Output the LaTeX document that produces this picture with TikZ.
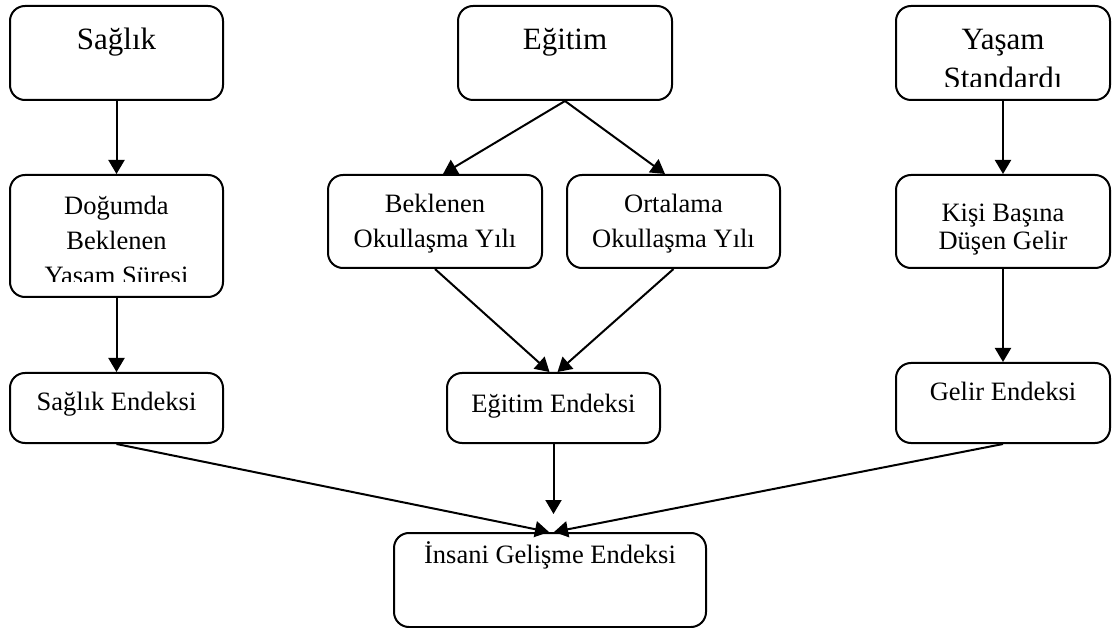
\documentclass[tikz,border=0pt]{standalone}
\usepackage{fontspec}
\setmainfont{Liberation Serif}
\usetikzlibrary{arrows.meta}
\begin{document}
\begin{tikzpicture}[x=1pt,y=-1pt,
  box/.style={draw, line width=2pt, rounded corners=15pt, inner sep=0pt},
  big/.style={font=\fontsize{31}{36}\selectfont, anchor=base, inner sep=0pt},
  txt/.style={font=\fontsize{26.5}{35}\selectfont, anchor=base, inner sep=0pt},
  conn/.style={line width=2pt, -{Triangle[length=14pt,width=16pt]}}
]
\useasboundingbox (0,0) rectangle (1117,628);

% boxes
\node[box, minimum width=213pt, minimum height=94pt]  (saglik) at (116.5,53)  {};
\node[box, minimum width=214pt, minimum height=94pt]  (egitim) at (565,53)    {};
\node[box, minimum width=214pt, minimum height=94pt]  (yasam)  at (1003,53)   {};
\node[box, minimum width=213pt, minimum height=122pt] (dogum)  at (116.5,236) {};
\node[box, minimum width=214pt, minimum height=93pt]  (bekl)   at (435,221.5) {};
\node[box, minimum width=213pt, minimum height=93pt]  (ortal)  at (673.5,221.5) {};
\node[box, minimum width=214pt, minimum height=93pt]  (kisi)   at (1003,221.5) {};
\node[box, minimum width=213pt, minimum height=70pt]  (sagend) at (116.5,408) {};
\node[box, minimum width=213pt, minimum height=70pt]  (egiend) at (553.5,408) {};
\node[box, minimum width=214pt, minimum height=80pt]  (gelend) at (1003,403)  {};
\node[box, minimum width=312pt, minimum height=94pt]  (hdi)    at (550,580)   {};

% labels
\node[big] (tSaglik) at (116.5,50) {Sağlık};
\node[big] (tEgitim) at (565,50) {Eğitim};
\node[big] (tYasam)  at (1003,50) {Yaşam};
\begin{scope}
  \clip (896,6) rectangle (1110,87);
  \node[big] (tStandart) at (1003,89) {Standardı};
\end{scope}

\node[txt] (tDogum1) at (116.5,215) {Doğumda};
\node[txt] (tDogum2) at (116.5,250) {Beklenen};
\begin{scope}
  \clip (10,175) rectangle (223,282);
  \node[txt] (tDogum3) at (116.5,285) {Yaşam Süresi};
\end{scope}

\node[txt] (tBekl1) at (435,213) {Beklenen};
\node[txt] (tBekl2) at (435,248) {Okullaşma Yılı};
\node[txt] (tOrtal1) at (673.5,213) {Ortalama};
\node[txt] (tOrtal2) at (673.5,248) {Okullaşma Yılı};
\node[txt] (tKisi1) at (1003,222) {Kişi Başına};
\node[txt] (tKisi2) at (1003,250) {Düşen Gelir};

\node[txt] (tSagEnd) at (116.5,410) {Sağlık Endeksi};
\node[txt] (tEgiEnd) at (553.5,412) {Eğitim Endeksi};
\node[txt] (tGelEnd) at (1003,400) {Gelir Endeksi};
\node[txt] (tHdi)    at (550,563) {İnsani Gelişme Endeksi};

% connectors
\draw[conn] (saglik.south) -- (dogum.north);
\draw[conn] (dogum.south) -- (sagend.north);
\draw[conn] (yasam.south) -- (kisi.north);
\draw[conn] (kisi.south) -- (gelend.north);
\draw[conn] (egitim.south) -- ([xshift=8pt]bekl.north);
\draw[conn] (egitim.south) -- ([xshift=-8.5pt]ortal.north);
\draw[conn] (bekl.south) -- ([xshift=-4pt]egiend.north);
\draw[conn] (ortal.south) -- ([xshift=4pt]egiend.north);
\draw[conn] (egiend.south) -- ([yshift=18pt]egiend.south |- hdi.north);
\draw[conn] (sagend.south) -- ([xshift=-1pt]hdi.north);
\draw[conn] (gelend.south) -- ([xshift=4pt]hdi.north);
\end{tikzpicture}
\end{document}
